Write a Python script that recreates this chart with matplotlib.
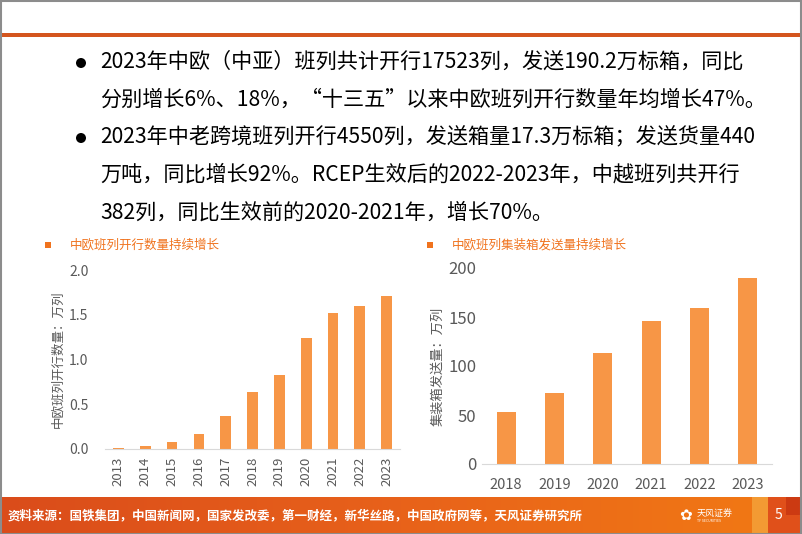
import matplotlib
matplotlib.use("Agg")
import matplotlib.pyplot as plt
import numpy as np
from matplotlib.patches import Rectangle, Circle
from matplotlib.colors import LinearSegmentedColormap

plt.rcParams['font.family'] = ['Noto Sans CJK SC', 'DejaVu Sans']

W, H = 802, 534

# data
years_left = ['2013', '2014', '2015', '2016', '2017', '2018',
              '2019', '2020', '2021', '2022', '2023']
trains = [0.008, 0.03, 0.08, 0.17, 0.37, 0.63, 0.82, 1.24, 1.52, 1.60, 1.71]

years_right = ['2018', '2019', '2020', '2021', '2022', '2023']
containers = [53, 72, 113, 146, 159, 189.5]

bullet_lines = [
    "2023年中欧（中亚）班列共计开行17523列，发送190.2万标箱，同比",
    "分别增长6%、18%，“十三五”以来中欧班列开行数量年均增长47%。",
    "2023年中老跨境班列开行4550列，发送箱量17.3万标箱；发送货量440",
    "万吨，同比增长92%。RCEP生效后的2022-2023年，中越班列共开行",
    "382列，同比生效前的2020-2021年，增长70%。",
]
source_text = "资料来源：国铁集团，中国新闻网，国家发改委，第一财经，新华丝路，中国政府网等，天风证券研究所"

BAR = '#F79646'
TITLE = '#F0731E'
GREY = '#595959'


def fx(x):
    return x / W


def fy(y):
    return 1 - y / H


def axes_px(fig, x0, y0, x1, y1):
    return fig.add_axes([fx(x0), fy(y1), fx(x1 - x0), (y1 - y0) / H])


fig = plt.figure(figsize=(W / 100, H / 100), dpi=100)

# background layer in pixel coordinates
bg = fig.add_axes([0, 0, 1, 1])
bg.axis('off')

# top rule
bg.add_patch(Rectangle((2, 33), W - 4, 4, color='#D4551E', lw=0))

# footer with gradient
grad = np.linspace(0, 1, 256).reshape(1, -1)
cmap = LinearSegmentedColormap.from_list('ft', ['#DA4C1A', '#E8621A', '#F27A14'])
bg.imshow(grad, extent=(0, W, H, 497), aspect='auto', cmap=cmap, zorder=1)
bg.add_patch(Rectangle((752, 497), 16, 37, color='#F39A33', lw=0, zorder=2))
bg.add_patch(Rectangle((768, 497), 34, 37, color='#E0501A', lw=0, zorder=2))
bg.add_patch(Rectangle((786, 497), 16, 18, color='#CC3A12', lw=0, zorder=2))
bg.set_xlim(0, W)
bg.set_ylim(H, 0)

bg.text(8, 516, source_text, color='white', fontsize=9, fontweight='bold',
        va='center', ha='left', zorder=3)
bg.text(686, 515, '✿', color='white', fontsize=11, va='center', ha='center',
        family=['DejaVu Sans'], zorder=3)
bg.text(697, 513, '天风证券', color='white', fontsize=6.5, va='center', ha='left', zorder=3)
bg.text(697, 521, 'TF SECURITIES', color='white', fontsize=2.5, va='center', ha='left', zorder=3)
bg.text(778, 515, '5', color='white', fontsize=10, va='center', ha='center', zorder=3)

# grey frame
bg.add_patch(Rectangle((0.5, 0.5), W - 1.5, H - 1, fill=False, ec='#8C8C8C', lw=1.5, zorder=4))

# bullet text
line_y = [62, 100, 137, 175, 213]
for y, line in zip(line_y, bullet_lines):
    bg.text(100, y, line, fontsize=15.2, color='black', va='center', ha='left')
for y in [line_y[0], line_y[2]]:
    bg.add_patch(Circle((81, y + 1), 5, color='black', lw=0))

# chart titles
bg.add_patch(Rectangle((45, 242), 6, 6, color=TITLE, lw=0))
bg.text(70, 245, '中欧班列开行数量持续增长', color=TITLE, fontsize=9, va='center', ha='left')
bg.add_patch(Rectangle((427, 242), 6, 6, color=TITLE, lw=0))
bg.text(452, 245, '中欧班列集装箱发送量持续增长', color=TITLE, fontsize=9, va='center', ha='left')


def style(ax):
    for s in ['top', 'right', 'left']:
        ax.spines[s].set_visible(False)
    ax.spines['bottom'].set_color('#D9D9D9')
    ax.tick_params(length=0, colors=GREY)
    ax.set_facecolor('none')


# left chart
ax1 = axes_px(fig, 105, 270, 400, 448.7)
x1 = np.arange(len(years_left))
ax1.bar(x1, trains, width=0.4, color=BAR)
ax1.set_xlim(-0.5, len(years_left) - 0.5)
ax1.set_ylim(0, 2.0)
ax1.set_yticks([0, 0.5, 1.0, 1.5, 2.0])
ax1.set_yticklabels(['0.0', '0.5', '1.0', '1.5', '2.0'], fontsize=10)
ax1.set_xticks(x1)
ax1.set_xticklabels(years_left, rotation=90, fontsize=9.5)
ax1.tick_params(axis='y', pad=12)
ax1.tick_params(axis='x', pad=6)
style(ax1)
ax1.set_ylabel('中欧班列开行数量：万列', fontsize=9, color=GREY, labelpad=3)

# right chart
ax2 = axes_px(fig, 482, 268, 772, 464)
x2 = np.arange(len(years_right))
ax2.bar(x2, containers, width=0.39, color=BAR)
ax2.set_xlim(-0.5, len(years_right) - 0.5)
ax2.set_ylim(0, 200)
ax2.set_yticks([0, 50, 100, 150, 200])
ax2.tick_params(axis='y', labelsize=12, pad=4)
ax2.set_xticks(x2)
ax2.set_xticklabels(years_right, fontsize=10.5)
ax2.tick_params(axis='x', pad=10)
style(ax2)
ax2.set_ylabel('集装箱发送量：万列', fontsize=9.5, color=GREY, labelpad=3)

fig.savefig('out.png', dpi=100)
